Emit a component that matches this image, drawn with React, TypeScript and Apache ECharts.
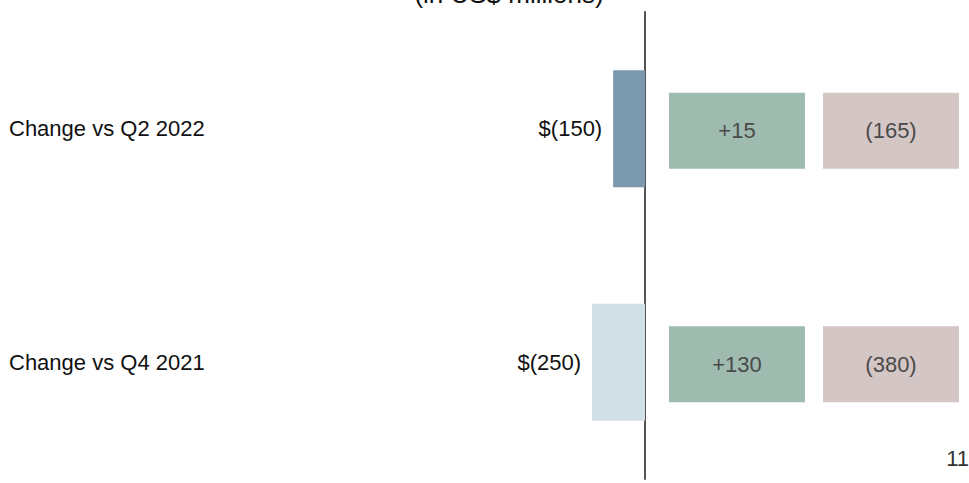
import React, { useEffect, useRef } from "react";
import * as echarts from "echarts";

const categories = ["Change vs Q2 2022", "Change vs Q4 2021"];
const totalChange = [-150, -250];
const increaseDriver = [15, 130];
const decreaseDriver = [-165, -380];
const driverColumns = ["Increase", "Decrease"];
const title = "(in US$ millions)";
const pageNumber = "11";

const FONT = "'Liberation Sans', Arial, sans-serif";
const barColors = ["#7a99ad", "#d1e0e7"];
const FS = 22;

const fmtMoney = (v: number) => (v < 0 ? `$(${Math.abs(v)})` : `$${v}`);
const fmtDelta = (v: number) => (v < 0 ? `(${Math.abs(v)})` : `+${v}`);

export default function App() {
  const ref = useRef<HTMLDivElement>(null);
  useEffect(() => {
    if (!ref.current) return;
    const chart = echarts.init(ref.current, null, { renderer: "svg" });
    chart.setOption({
      animation: false,
      backgroundColor: "#ffffff",
      textStyle: { fontFamily: FONT },
      grid: [
        { left: 9, right: 324, top: 12, bottom: 4 },
        { left: 660, right: 1, top: 14, bottom: 2 },
      ],
      xAxis: [
        { type: "value", gridIndex: 0, min: -3000, max: 0, show: false },
        { type: "category", gridIndex: 1, data: driverColumns, show: false },
      ],
      yAxis: [
        {
          type: "category",
          gridIndex: 0,
          data: categories,
          inverse: true,
          position: "right",
          axisLine: { show: true, onZero: false, lineStyle: { color: "#555555", width: 2 } },
          axisTick: { show: false },
          axisLabel: { show: false },
        },
        {
          type: "category",
          gridIndex: 0,
          data: categories,
          inverse: true,
          position: "left",
          axisLine: { show: false },
          axisTick: { show: false },
          axisLabel: {
            show: true,
            inside: true,
            margin: 0,
            align: "left",
            color: "#111111",
            fontSize: FS,
            fontFamily: FONT,
          },
        },
        {
          type: "category",
          gridIndex: 1,
          data: categories,
          inverse: true,
          show: false,
        },
      ],
      series: [
        {
          type: "bar",
          xAxisIndex: 0,
          yAxisIndex: 0,
          barWidth: 117,
          data: totalChange.map((v, i) => ({ value: v, itemStyle: { color: barColors[i] } })),
          label: {
            show: true,
            position: "left",
            distance: 11,
            color: "#111111",
            fontSize: FS,
            fontFamily: FONT,
            formatter: (p: any) => fmtMoney(p.value),
          },
        },
        {
          type: "scatter",
          xAxisIndex: 1,
          yAxisIndex: 2,
          symbol: "rect",
          symbolSize: [136, 76],
          itemStyle: { color: "#9fbbb0", opacity: 1 },
          data: increaseDriver.map((v, i) => [0, i, v]),
          label: {
            show: true,
            position: "inside",
            color: "#4a4a4a",
            fontSize: FS,
            fontFamily: FONT,
            formatter: (p: any) => fmtDelta(p.value[2]),
          },
        },
        {
          type: "scatter",
          xAxisIndex: 1,
          yAxisIndex: 2,
          symbol: "rect",
          symbolSize: [136, 76],
          itemStyle: { color: "#d4c6c4", opacity: 1 },
          data: decreaseDriver.map((v, i) => [1, i, v]),
          label: {
            show: true,
            position: "inside",
            color: "#4a4a4a",
            fontSize: FS,
            fontFamily: FONT,
            formatter: (p: any) => fmtDelta(p.value[2]),
          },
        },
      ],
      graphic: [
        {
          type: "text",
          x: 509,
          y: -6,
          style: {
            text: title,
            fill: "#111111",
            font: `26px ${FONT}`,
            align: "center",
            verticalAlign: "middle",
          },
        },
        {
          type: "text",
          x: 969,
          y: 458,
          style: {
            text: pageNumber,
            fill: "#333333",
            font: `${FS}px ${FONT}`,
            align: "right",
            verticalAlign: "middle",
          },
        },
      ],
    });
    return () => chart.dispose();
  }, []);
  return (
    <div
      ref={ref}
      style={{ position: "fixed", left: 0, top: 0, width: 969, height: 483 }}
    />
  );
}
